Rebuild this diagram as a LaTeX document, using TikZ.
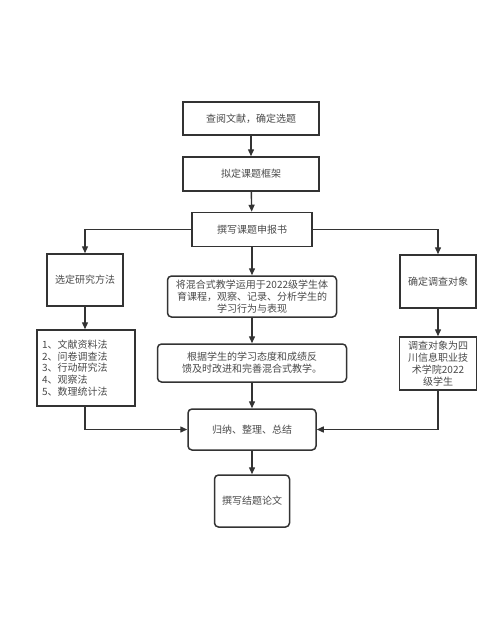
\documentclass[tikz,border=0pt]{standalone}
\usepackage{fontspec}
\setmainfont{Noto Sans CJK SC}
\usetikzlibrary{arrows.meta}
\definecolor{txt}{HTML}{4A4A4A}
\definecolor{ln}{HTML}{333333}
\tikzset{
  box/.style={draw=ln, line width=1.5pt, fill=white, text=txt, font=\fontsize{10}{12}\selectfont, align=center, inner sep=0pt},
  rbox/.style={box, rounded corners=4pt},
  conn/.style={draw=ln, line width=1.4pt, -{Triangle[length=7pt,width=6pt]}},
}
\begin{document}
\begin{tikzpicture}[x=1pt,y=-1pt]
\useasboundingbox (0,0) rectangle (500,623);
\node[box, minimum width=136pt, minimum height=33pt] (b1) at (251,118.5) {查阅文献，确定选题};
\node[box, minimum width=136pt, minimum height=34pt] (b2) at (251,174) {拟定课题框架};
\node[box, minimum width=120pt, minimum height=34pt] (b3) at (252,229.5) {撰写课题申报书};
\node[box, minimum width=76pt, minimum height=52pt] (lm) at (85,280) {选定研究方法};
\node[box, minimum height=76pt, text width=88pt, inner xsep=5pt, align=left, font=\fontsize{10}{11.8}\selectfont] (me) at (86,368) {1、文献资料法\\2、问卷调查法\\3、行动研究法\\4、观察法\\5、数理统计法};
\node[rbox, minimum width=169pt, minimum height=41pt] (m1) at (252,296.5) {将混合式教学运用于2022级学生体\\育课程，观察、记录、分析学生的\\学习行为与表现};
\node[rbox, minimum width=189pt, minimum height=38pt] (m2) at (252,363) {根据学生的学习态度和成绩反\\馈及时改进和完善混合式教学。};
\node[box, minimum width=76pt, minimum height=53pt] (ro) at (438,281.5) {确定调查对象};
\node[box, minimum width=77pt, minimum height=53pt] (rd) at (438,363.5) {调查对象为四\\川信息职业技\\术学院2022\\级学生};
\node[rbox, minimum width=128pt, minimum height=41pt] (su) at (252,429.5) {归纳、整理、总结};
\node[rbox, minimum width=75pt, minimum height=52pt] (fi) at (252,501) {撰写结题论文};
\draw[conn] (b1) -- (b2);
\draw[conn] (b2) -- (b3);
\draw[conn] (b3.west) -| (lm.north);
\draw[conn] (b3.east) -| (ro.north);
\draw[conn] (b3) -- (m1);
\draw[conn] (lm.south) -- (lm.south |- me.north);
\draw[conn] (m1) -- (m2);
\draw[conn] (m2) -- (su);
\draw[conn] (ro) -- (rd);
\draw[conn] (me.south -| lm.south) |- (su.west);
\draw[conn] (rd.south) |- (su.east);
\draw[conn] (su) -- (fi);
\end{tikzpicture}
\end{document}
